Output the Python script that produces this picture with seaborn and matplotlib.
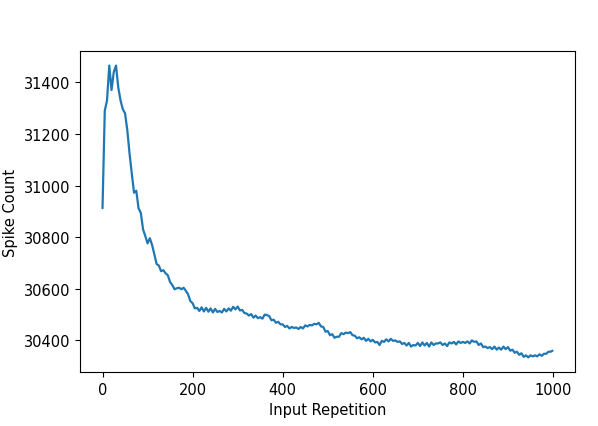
"""Spike count per input repetition."""

import matplotlib
matplotlib.use("Agg")
import matplotlib.pyplot as plt
import numpy as np
import pandas as pd
import seaborn as sns

sns.set_style("ticks")
plt.rcParams.update({"text.color": "black", "axes.labelcolor": "black",
                     "xtick.color": "black", "ytick.color": "black",
                     "axes.edgecolor": "black"})

# one value every 5 repetitions
repetitions = list(range(0, 1000, 5)) + [999]
spike_counts = [
    30912, 31290, 31330, 31465, 31370, 31440, 31465, 31380, 31330, 31296,
    31280, 31215, 31124, 31046, 30972, 30980, 30912, 30894, 30830, 30804,
    30776, 30796, 30770, 30734, 30696, 30690, 30668, 30672, 30660, 30652,
    30626, 30614, 30598, 30602, 30604, 30598, 30604, 30592, 30578, 30552,
    30544, 30524, 30526, 30514, 30528, 30512, 30526, 30511, 30524, 30508,
    30522, 30510, 30514, 30508, 30522, 30512, 30524, 30515, 30530, 30520,
    30531, 30516, 30518, 30506, 30504, 30496, 30502, 30488, 30496, 30486,
    30490, 30484, 30500, 30498, 30494, 30478, 30480, 30468, 30472, 30462,
    30462, 30452, 30456, 30446, 30452, 30448, 30450, 30444, 30452, 30446,
    30458, 30454, 30460, 30458, 30464, 30462, 30468, 30454, 30452, 30434,
    30436, 30420, 30424, 30410, 30414, 30414, 30428, 30424, 30430, 30428,
    30432, 30420, 30418, 30408, 30412, 30404, 30410, 30398, 30406, 30396,
    30402, 30392, 30394, 30382, 30398, 30394, 30404, 30396, 30406, 30398,
    30400, 30394, 30396, 30386, 30390, 30380, 30390, 30376, 30382, 30380,
    30390, 30378, 30392, 30380, 30390, 30376, 30392, 30382, 30388, 30388,
    30392, 30382, 30388, 30378, 30392, 30388, 30394, 30384, 30396, 30390,
    30394, 30390, 30396, 30388, 30400, 30394, 30396, 30382, 30388, 30374,
    30376, 30370, 30374, 30366, 30376, 30364, 30372, 30364, 30376, 30366,
    30374, 30360, 30364, 30352, 30356, 30344, 30350, 30336, 30342, 30334,
    30342, 30338, 30342, 30338, 30346, 30340, 30348, 30348, 30356, 30356,
    30360,
]


def main():
    data = pd.DataFrame({"rep": repetitions, "count": spike_counts})

    fig = plt.figure(figsize=(5.98, 4.27), dpi=100)
    ax = fig.add_axes([0.1338, 0.1265, 0.8278, 0.7518])

    sns.lineplot(data=data, x="rep", y="count", ax=ax, color="#1f77b4", linewidth=1.6)
    ax.set_xlabel("Input Repetition", fontsize=10.5)
    ax.set_ylabel("Spike Count", fontsize=10.5)
    ax.set_xticks([0, 200, 400, 600, 800, 1000])
    ax.set_yticks([30400, 30600, 30800, 31000, 31200, 31400])
    ax.tick_params(labelsize=10.5)
    ax.margins(x=0.05, y=0.05)

    fig.savefig("out.png", dpi=100)


if __name__ == '__main__':
    main()
